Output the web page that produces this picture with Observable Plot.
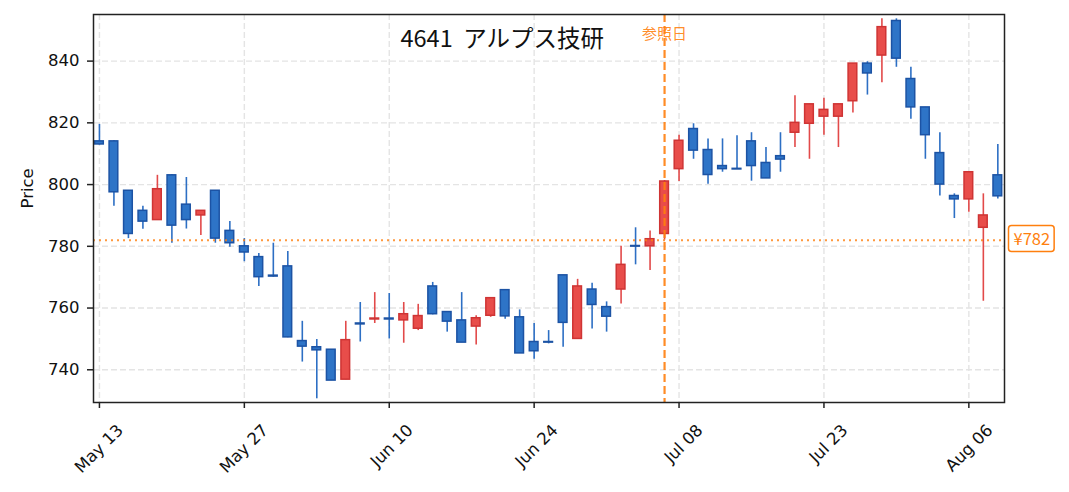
<!DOCTYPE html>
<html><head><meta charset="utf-8">
<script src="https://cdn.jsdelivr.net/npm/d3@7"></script>
<script src="https://cdn.jsdelivr.net/npm/@observablehq/plot@0.6"></script>
<style>body{margin:0;background:#fff}#chart svg{display:block}</style>
</head><body><div id="chart"></div>
<script>
const dates = [
  "2024-05-13","2024-05-14","2024-05-15","2024-05-16","2024-05-17",
  "2024-05-20","2024-05-21","2024-05-22","2024-05-23","2024-05-24",
  "2024-05-27","2024-05-28","2024-05-29","2024-05-30","2024-05-31",
  "2024-06-03","2024-06-04","2024-06-05","2024-06-06","2024-06-07",
  "2024-06-10","2024-06-11","2024-06-12","2024-06-13","2024-06-14",
  "2024-06-17","2024-06-18","2024-06-19","2024-06-20","2024-06-21",
  "2024-06-24","2024-06-25","2024-06-26","2024-06-27","2024-06-28",
  "2024-07-01","2024-07-02","2024-07-03","2024-07-04","2024-07-05",
  "2024-07-08","2024-07-09","2024-07-10","2024-07-11","2024-07-12",
  "2024-07-16","2024-07-17","2024-07-18","2024-07-19",
  "2024-07-22","2024-07-23","2024-07-24","2024-07-25","2024-07-26",
  "2024-07-29","2024-07-30","2024-07-31","2024-08-01","2024-08-02",
  "2024-08-05","2024-08-06","2024-08-07","2024-08-08"
];
const open = [
  814, 814, 798, 791.5, 788.5, 803, 793.5, 790, 798, 785,
  780, 776.5, 770.5, 773.5, 749.3, 747.3, 746.5, 736.8, 755, 756.3,
  756.6, 756, 753.3, 767, 758.7, 756, 754, 757.5, 765.8, 757,
  749, 749, 770.6, 750, 766, 760.3, 766, 780.1, 780, 784,
  805, 818, 811.2, 806, 805.1, 814, 807, 809.2, 816.8, 819.7,
  822, 822, 827, 839.2, 841.8, 853, 834.2, 825, 810.2, 796.3,
  795.2, 786, 803
];
const high = [
  819.5, 814.2, 798, 793, 803, 803.2, 802.3, 791.5, 798, 788,
  782.5, 777.7, 781, 778.3, 755.7, 749.8, 746.5, 755.7, 761.8, 765,
  764.7, 761.8, 761.2, 768.3, 758.7, 765, 757.5, 763.2, 765.8, 759.4,
  755, 752.7, 770.6, 769.3, 768, 762, 780, 786, 785, 801.3,
  816, 819.7, 814.8, 814.8, 815.8, 816.8, 812, 816.8, 828.8, 826,
  828, 826, 839.2, 839.8, 853.7, 853.7, 838, 825, 816.8, 797,
  804, 797, 813
];
const low = [
  812.8, 793, 782.5, 785.5, 788.4, 781, 785.6, 783.5, 781, 779.7,
  775, 767, 770, 750.4, 742.5, 730.6, 736.5, 736.8, 749, 755,
  750, 748.6, 752.7, 757.8, 752.2, 748.8, 748, 757, 756.4, 745.3,
  743.4, 748.4, 747.3, 750, 753.2, 752.2, 761.3, 774, 772.2, 782,
  801, 808.2, 800.1, 804, 804.9, 801.1, 802, 804, 812, 808.2,
  816, 812, 823.2, 829, 833, 838, 821.2, 808.2, 796.3, 789,
  791, 762.2, 795.3
];
const close = [
  813, 797.5, 784, 788, 798.5, 786.7, 788.5, 791.5, 782.5, 781,
  778, 770, 770.2, 750.5, 747.5, 746.3, 736.5, 749.6, 754.7, 756.6,
  756.3, 758, 757.4, 758, 755.6, 748.8, 756.7, 763.2, 757.3, 745.3,
  746, 748.8, 755.2, 767, 761, 757.2, 774, 779.9, 782.3, 801,
  814.2, 811, 803.1, 805, 804.9, 806, 802, 808.1, 820, 826,
  824.2, 826, 839.2, 836, 851, 840.8, 825, 816, 800, 795.2,
  804, 790, 796.2
];
const tickIndex = [0, 10, 20, 30, 40, 50, 60];
const yTicks = [740, 760, 780, 800, 820, 840];
const refIndex = 39;
const refPrice = 782;
const titleText = "4641  アルプス技研";
const refLabel = "参照日";
const priceLabel = "¥782";
const yLabel = "Price";

const ORANGE = "#ff7f0e";
const fmt = d3.utcFormat("%b %d");
const data = dates.map((d, i) => ({
  i, date: new Date(d), open: open[i], high: high[i], low: low[i], close: close[i],
  up: close[i] > open[i]
}));

const chart = Plot.plot({
  width: 1069, height: 492,
  marginLeft: 93, marginRight: 65, marginTop: 14, marginBottom: 90,
  style: {fontFamily: "DejaVu Sans", background: "#fff"},
  x: {type: "linear", domain: [-0.41, 62.46]},
  y: {domain: [729.4, 855.1]},
  marks: [
    Plot.gridX(tickIndex, {stroke: "#e4e4e4", strokeOpacity: 1, strokeWidth: 1.4, strokeDasharray: "6,3"}),
    Plot.gridY(yTicks, {stroke: "#e4e4e4", strokeOpacity: 1, strokeWidth: 1.4, strokeDasharray: "6,3"}),
    Plot.ruleX(data, {x: "i", y1: "low", y2: "high", stroke: d => d.up ? "#e24a4a" : "#2d6fc4", strokeWidth: 1.6}),
    Plot.rect(data, {
      x1: d => d.i - 0.3, x2: d => d.i + 0.3,
      y1: d => Math.min(d.open, d.close), y2: d => Math.max(d.open, d.close),
      fill: d => d.up ? "#e84d4a" : "#2e74c7",
      stroke: d => d.up ? "#cf3434" : "#1c53a4", strokeWidth: 1.5
    }),
    Plot.ruleY([refPrice], {stroke: ORANGE, strokeWidth: 2, strokeDasharray: "2,4", strokeOpacity: 0.8}),
    Plot.ruleX([refIndex], {stroke: ORANGE, strokeWidth: 2.2, strokeDasharray: "8,4", strokeOpacity: 0.9}),
    Plot.frame({stroke: "#222", strokeWidth: 1.5}),
    Plot.axisY(yTicks, {tickSize: 6, tickPadding: 8, fontSize: 16.5, label: null, stroke: "#222", strokeWidth: 1.5, fill: "#111"}),
    Plot.axisX(tickIndex, {tickSize: 6, tickFormat: () => "", label: null, stroke: "#222", strokeWidth: 1.5}),
    Plot.text(tickIndex, {x: d => d, text: d => fmt(new Date(dates[d])), frameAnchor: "bottom", lineAnchor: "middle", rotate: -45, textAnchor: "end", dx: 21, dy: 25, fontSize: 16.5, fill: "#111"}),
    Plot.text([yLabel], {text: d => d, frameAnchor: "left", lineAnchor: "middle", rotate: -90, dx: -66, fontSize: 16.5, fill: "#111"}),
    Plot.text([titleText], {text: d => d, frameAnchor: "top-left", lineAnchor: "middle", textAnchor: "start", dx: 307, dy: 25, fontSize: 23.5, fontFamily: "Noto Sans CJK JP", fill: "#111"}),
    Plot.text([refIndex], {x: d => d, text: () => refLabel, frameAnchor: "top", lineAnchor: "middle", dy: 19.7, fontSize: 15, fontFamily: "Noto Sans CJK JP", fill: ORANGE, fillOpacity: 0.9}),
    Plot.text([refPrice], {y: d => d, text: () => priceLabel, frameAnchor: "right", lineAnchor: "middle", textAnchor: "start", dx: 9, fontSize: 16.5, fontFamily: "Noto Sans CJK JP", fill: ORANGE, className: "pricelabel"})
  ]
});
document.getElementById("chart").appendChild(chart);

// box behind the price label
d3.select(chart).selectAll("g.pricelabel text").each(function() {
  const b = this.getBBox();
  const g = this.parentNode;
  const tr = this.getAttribute("transform");
  const rect = document.createElementNS("http://www.w3.org/2000/svg", "rect");
  rect.setAttribute("x", b.x - 5);
  rect.setAttribute("y", b.y - 1);
  rect.setAttribute("width", b.width + 9);
  rect.setAttribute("height", b.height + 2);
  rect.setAttribute("rx", 3);
  rect.setAttribute("fill", "#fff");
  rect.setAttribute("stroke", ORANGE);
  rect.setAttribute("stroke-width", 1.5);
  if (tr) rect.setAttribute("transform", tr);
  g.insertBefore(rect, this);
});
</script>
</body></html>
